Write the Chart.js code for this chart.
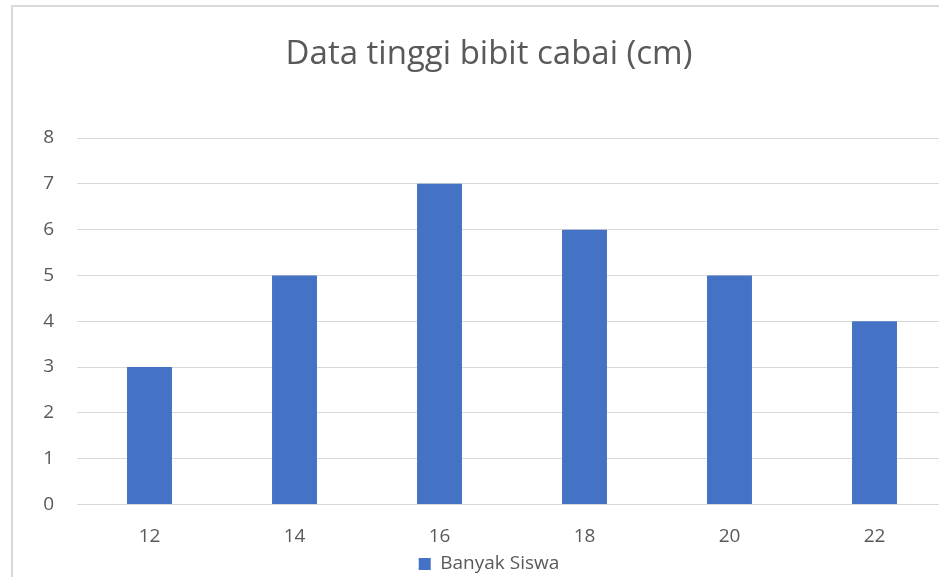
<!DOCTYPE html>
<html>
<head>
<meta charset="utf-8">
<script src="https://cdn.jsdelivr.net/npm/chart.js@4/dist/chart.umd.min.js"></script>
<style>
  html, body { margin: 0; padding: 0; background: #fff; overflow: hidden; width: 939px; height: 577px; }
  #wrap { position: absolute; left: 0; top: 0; width: 980px; height: 600px; }
  #frame { position: absolute; left: 11px; top: 5px; width: 1000px; height: 700px;
           border: 2px solid #d9d9d9; box-sizing: border-box; pointer-events: none; }
  canvas { position: absolute; left: 0; top: 0; }
</style>
</head>
<body>
<div id="wrap">
  <canvas id="c" width="980" height="600"></canvas>
  <div id="frame"></div>
</div>
<script>
// Tinggi bibit cabai (cm) dan banyak siswa
const categories = ['12', '14', '16', '18', '20', '22'];
const banyakSiswa = [3, 5, 7, 6, 5, 4];
const seriesName = 'Banyak Siswa';
const chartTitle = 'Data tinggi bibit cabai (cm)';

const textColor = '#595959';
const gridColor = '#d9d9d9';
const barColor = '#4472C4';
const fontFamily = '"Open Sans", "Noto Sans", sans-serif';

new Chart(document.getElementById('c'), {
  type: 'bar',
  data: {
    labels: categories,
    datasets: [{
      label: seriesName,
      data: banyakSiswa,
      backgroundColor: barColor,
      borderWidth: 0,
      categoryPercentage: 1,
      barPercentage: 0.31
    }]
  },
  options: {
    responsive: false,
    animation: false,
    devicePixelRatio: 1,
    layout: { padding: { left: 31, right: 33, top: 0, bottom: 16.5 } },
    plugins: {
      title: {
        display: true,
        text: chartTitle,
        color: textColor,
        font: { family: fontFamily, size: 33, weight: 'normal' },
        padding: { top: 35, bottom: 63.4 }
      },
      legend: {
        display: true,
        position: 'bottom',
        labels: {
          color: textColor,
          font: { family: fontFamily, size: 19 },
          boxWidth: 12,
          boxHeight: 12,
          padding: 10
        }
      },
      tooltip: { enabled: false }
    },
    scales: {
      x: {
        grid: { display: false, drawTicks: false },
        border: { display: false },
        ticks: { color: textColor, font: { family: fontFamily, size: 19 }, padding: 21 },
        afterFit(scale) { scale.height = 40; }
      },
      y: {
        min: 0,
        max: 8,
        grid: { color: gridColor, lineWidth: 1, drawTicks: false },
        border: { display: false },
        ticks: { stepSize: 1, color: textColor, font: { family: fontFamily, size: 19 }, padding: 23 },
        afterFit(scale) { scale.width = 46; }
      }
    }
  }
});
</script>
</body>
</html>
